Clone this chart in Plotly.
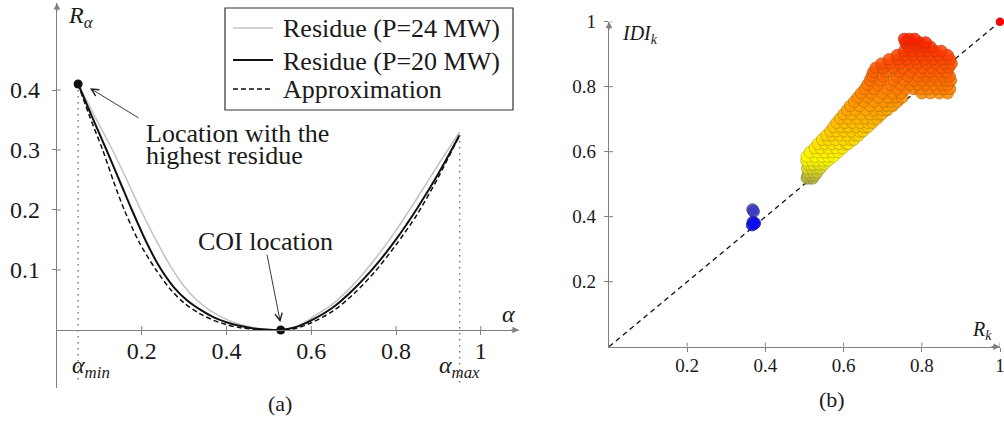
import plotly.graph_objects as go

# ---------------- panel (a): residue along the line parameter alpha ----------------
ALPHA_P24 = [0.05, 0.09, 0.131, 0.165, 0.198, 0.235, 0.27, 0.30, 0.33, 0.36, 0.39, 0.42,
             0.45, 0.48, 0.53, 0.57, 0.60, 0.65, 0.70, 0.75, 0.80, 0.85, 0.90, 0.95]
R_P24 = [0.41, 0.355, 0.30, 0.25, 0.20, 0.148, 0.104, 0.073, 0.05, 0.033, 0.021, 0.012,
         0.006, 0.002, 0.0, 0.006, 0.02, 0.043, 0.076, 0.118, 0.166, 0.22, 0.276, 0.33]

ALPHA_P20 = [0.05, 0.08, 0.117, 0.15, 0.177, 0.21, 0.243, 0.275, 0.306, 0.34, 0.37, 0.40,
             0.43, 0.46, 0.49, 0.528, 0.56, 0.60, 0.65, 0.70, 0.75, 0.80, 0.85, 0.90, 0.95]
R_P20 = [0.41, 0.36, 0.30, 0.245, 0.20, 0.148, 0.104, 0.072, 0.05, 0.033, 0.021, 0.013,
         0.007, 0.003, 0.001, 0.0, 0.004, 0.016, 0.037, 0.068, 0.106, 0.151, 0.203, 0.261, 0.325]

ALPHA_APPROX = [0.05, 0.075, 0.108, 0.135, 0.159, 0.195, 0.234, 0.27, 0.30, 0.335, 0.37, 0.40,
                0.43, 0.47, 0.528, 0.56, 0.60, 0.65, 0.70, 0.75, 0.80, 0.85, 0.90, 0.95]
R_APPROX = [0.41, 0.36, 0.30, 0.245, 0.20, 0.145, 0.10, 0.066, 0.045, 0.028, 0.016, 0.009,
            0.004, 0.001, 0.0, 0.002, 0.012, 0.031, 0.06, 0.097, 0.142, 0.193, 0.255, 0.325]

SERIES_NAMES = ["Residue (P=24 MW)", "Residue (P=20 MW)", "Approximation"]

ALPHA_MIN, ALPHA_MAX = 0.05, 0.95
X_TICKS_A = [0.2, 0.4, 0.6, 0.8, 1.0]
X_LABELS_A = ["0.2", "0.4", "0.6", "0.8", "1"]
Y_TICKS_A = [0.1, 0.2, 0.3, 0.4]
Y_LABELS_A = ["0.1", "0.2", "0.3", "0.4"]

# ---------------- panel (b): IDI_k against R_k ----------------
RK_BLUE = [0.367, 0.370, 0.368, 0.371, 0.366, 0.373]
IDI_BLUE = [0.422, 0.416, 0.384, 0.378, 0.374, 0.380]

# main cloud, one IDI level per row with the R_k values found on it
ROW_IDI = [0.518, 0.527, 0.536, 0.548, 0.561, 0.573, 0.585, 0.598, 0.611, 0.624, 0.637,
           0.650, 0.663, 0.676, 0.689, 0.702, 0.715, 0.728, 0.741, 0.754, 0.767, 0.780,
           0.793, 0.806, 0.819, 0.832, 0.845, 0.858, 0.871, 0.884, 0.897, 0.910, 0.923,
           0.936, 0.947]
ROW_RK = [
    [0.506, 0.513, 0.521],
    [0.508, 0.517, 0.526],
    [0.511, 0.522, 0.532],
    [0.507, 0.519, 0.530, 0.540],
    [0.509, 0.522, 0.537, 0.550],
    [0.505, 0.518, 0.531, 0.547, 0.561],
    [0.506, 0.527, 0.545, 0.560, 0.574],
    [0.514, 0.533, 0.552, 0.571, 0.586],
    [0.526, 0.541, 0.561, 0.580, 0.598],
    [0.534, 0.552, 0.570, 0.588, 0.607, 0.612],
    [0.545, 0.561, 0.579, 0.599, 0.618, 0.626],
    [0.556, 0.571, 0.590, 0.610, 0.629, 0.638],
    [0.566, 0.582, 0.601, 0.620, 0.640, 0.650],
    [0.574, 0.593, 0.612, 0.632, 0.651, 0.662],
    [0.582, 0.603, 0.623, 0.643, 0.662, 0.674],
    [0.591, 0.612, 0.634, 0.655, 0.673, 0.686],
    [0.600, 0.620, 0.645, 0.667, 0.686, 0.697],
    [0.609, 0.630, 0.657, 0.679, 0.698, 0.712],
    [0.617, 0.641, 0.668, 0.690, 0.711, 0.726],
    [0.627, 0.652, 0.678, 0.703, 0.722, 0.738],
    [0.636, 0.661, 0.689, 0.714, 0.734, 0.750],
    [0.645, 0.671, 0.700, 0.726, 0.747, 0.800, 0.822, 0.845, 0.866],
    [0.654, 0.678, 0.710, 0.737, 0.759, 0.779, 0.798, 0.818, 0.839, 0.858, 0.872],
    [0.661, 0.687, 0.720, 0.747, 0.770, 0.790, 0.810, 0.830, 0.850, 0.866],
    [0.667, 0.694, 0.728, 0.756, 0.780, 0.801, 0.821, 0.842, 0.862, 0.874],
    [0.672, 0.701, 0.736, 0.765, 0.790, 0.812, 0.832, 0.853, 0.871],
    [0.676, 0.708, 0.742, 0.772, 0.797, 0.820, 0.843, 0.864],
    [0.682, 0.702, 0.726, 0.752, 0.779, 0.803, 0.826, 0.850, 0.869],
    [0.697, 0.720, 0.745, 0.768, 0.790, 0.812, 0.835, 0.858, 0.876],
    [0.716, 0.740, 0.762, 0.784, 0.806, 0.828, 0.851, 0.872],
    [0.737, 0.758, 0.779, 0.800, 0.820, 0.843, 0.866],
    [0.755, 0.776, 0.796, 0.814, 0.833, 0.850],
    [0.766, 0.787, 0.805, 0.822],
    [0.758, 0.776, 0.795, 0.810],
    [0.755, 0.768, 0.782],
]
RK_REF, IDI_REF = [1.0], [1.0]
X_TICKS_B = [0.2, 0.4, 0.6, 0.8, 1.0]
X_LABELS_B = ["0.2", "0.4", "0.6", "0.8", "1"]
Y_TICKS_B = [0.2, 0.4, 0.6, 0.8, 1.0]
Y_LABELS_B = ["0.2", "0.4", "0.6", "0.8", "1"]

# ---------------- styling ----------------
FONT = "Liberation Serif, Times New Roman, DejaVu Serif, serif"
AXIS_GRAY = "#808080"
TXT = "#1a1a1a"
W, H = 1004, 422

rk_cloud = RK_BLUE + [r for row, rks in zip(ROW_IDI, ROW_RK) for r in rks]
idi_cloud = IDI_BLUE + [y for y, rks in zip(ROW_IDI, ROW_RK) for _ in rks]

CMIN, CMAX = 0.37, 1.0
FILL_SCALE = [[0.0, "rgb(0,0,255)"], [0.333, "rgb(255,255,0)"], [1.0, "rgb(255,0,0)"]]
EDGE_SCALE = [[0.0, "rgb(20,20,170)"], [0.333, "rgb(200,190,0)"], [1.0, "rgb(200,25,0)"]]

LINE_STYLES = [
    dict(color="#c4c4c4", width=1.6),
    dict(color="#111111", width=2.0),
    dict(color="#111111", width=1.5, dash="5px,3px"),
]

fig = go.Figure()

# --- panel (a) traces ---
for xs, ys, name, style in zip([ALPHA_P24, ALPHA_P20, ALPHA_APPROX],
                               [R_P24, R_P20, R_APPROX], SERIES_NAMES, LINE_STYLES):
    fig.add_trace(go.Scatter(x=xs, y=ys, mode="lines", name=name, showlegend=False,
                             line=dict(style, shape="spline", smoothing=0.8),
                             xaxis="x", yaxis="y"))

# bounds of the admissible alpha interval
for a, r_top in [(ALPHA_MIN, R_P20[0]), (ALPHA_MAX, R_P20[-1])]:
    fig.add_trace(go.Scatter(x=[a, a], y=[r_top, -0.09], mode="lines", showlegend=False,
                             line=dict(color="#707070", width=1.4, dash="1.4px,4.6px"),
                             hoverinfo="skip", xaxis="x", yaxis="y"))

# highest residue and COI location
i_min = R_P20.index(min(R_P20))
fig.add_trace(go.Scatter(x=[ALPHA_P20[0], ALPHA_P20[i_min]], y=[R_P20[0], R_P20[i_min]],
                         mode="markers", showlegend=False, cliponaxis=False,
                         marker=dict(color="#111111", size=9),
                         xaxis="x", yaxis="y"))

# --- panel (b) traces ---
fig.add_trace(go.Scatter(x=[0, 1], y=[0, 1], mode="lines", showlegend=False,
                         line=dict(color="#111111", width=1.3, dash="5px,4px"),
                         xaxis="x2", yaxis="y2"))
fig.add_trace(go.Scatter(x=rk_cloud, y=idi_cloud, mode="markers", showlegend=False,
                         marker=dict(size=11.5, color=idi_cloud, colorscale=FILL_SCALE,
                                     cmin=CMIN, cmax=CMAX, opacity=0.85,
                                     line=dict(width=1.0, color=idi_cloud,
                                               colorscale=EDGE_SCALE, cmin=CMIN, cmax=CMAX)),
                         xaxis="x2", yaxis="y2"))
fig.add_trace(go.Scatter(x=RK_REF, y=IDI_REF, mode="markers", showlegend=False,
                         cliponaxis=False, marker=dict(size=8.5, color="rgb(250,0,0)"),
                         xaxis="x2", yaxis="y2"))

# --- axes ---
A_X0, A_X1 = 56.9, 519.0           # pixel extent of panel (a) horizontally
A_Y_TOP, A_Y_BOT, A_Y_ZERO = 3.0, 388.0, 330.0
B_X0, B_X1 = 609.0, 1000.0
B_Y_TOP, B_Y_BOT = 21.7, 346.7

axis_common = dict(showgrid=False, zeroline=False, showline=True, linecolor=AXIS_GRAY,
                   linewidth=1.2, ticks="outside", ticklen=4, tickwidth=1, tickcolor=AXIS_GRAY,
                   tickfont=dict(family=FONT, color=TXT), ticklabeloverflow="allow",
                   automargin=False)

fig.update_layout(
    template="none",
    xaxis=dict(axis_common, domain=[A_X0 / W, A_X1 / W], range=[0, 1.09],
               anchor="free", position=1 - A_Y_ZERO / H,
               tickvals=X_TICKS_A, ticktext=X_LABELS_A, tickfont_size=24,
               ticklabelstandoff=-5),
    yaxis=dict(axis_common, domain=[1 - A_Y_BOT / H, 1 - A_Y_TOP / H],
               range=[-0.0967, 0.545], anchor="x",
               tickvals=Y_TICKS_A, ticktext=Y_LABELS_A, tickfont_size=24,
               ticklabelstandoff=7),
    xaxis2=dict(axis_common, domain=[B_X0 / W, B_X1 / W], range=[0, 1], anchor="y2",
                tickvals=X_TICKS_B, ticktext=X_LABELS_B, tickfont_size=19,
                ticklabelstandoff=-3),
    yaxis2=dict(axis_common, domain=[1 - B_Y_BOT / H, 1 - B_Y_TOP / H], range=[0, 1],
                anchor="x2", tickvals=Y_TICKS_B, ticktext=Y_LABELS_B, tickfont_size=19,
                ticklabelstandoff=4),
)

# inner halves of the tick marks, so each tick crosses its axis
for xa, ya, ticks in [("x", "y", X_TICKS_A), ("x2", "y2", X_TICKS_B)]:
    for v in ticks:
        fig.add_shape(type="line", xref=xa, yref=ya, x0=v, x1=v, ysizemode="pixel",
                      yanchor=0, y0=0, y1=4, line=dict(color=AXIS_GRAY, width=1))
for xa, ya, ticks in [("x", "y", Y_TICKS_A), ("x2", "y2", Y_TICKS_B)]:
    for v in ticks:
        fig.add_shape(type="line", xref=xa, yref=ya, y0=v, y1=v, xsizemode="pixel",
                      xanchor=0, x0=0, x1=4, line=dict(color=AXIS_GRAY, width=1))

# legend box of panel (a), drawn by hand for a tight row pitch
LEG_L, LEG_R, LEG_T, LEG_B = 225, 513, 8, 110
LEG_ROWS = [28, 60, 89]
fig.add_shape(type="rect", xref="paper", yref="paper", x0=LEG_L / W, x1=LEG_R / W,
              y0=1 - LEG_B / H, y1=1 - LEG_T / H, fillcolor="white",
              line=dict(color="#333333", width=1.2))
for row, style in zip(LEG_ROWS, LINE_STYLES):
    fig.add_shape(type="line", xref="paper", yref="paper", x0=233 / W, x1=273 / W,
                  y0=1 - row / H, y1=1 - row / H, line=style)

annotations = []

# axis arrow heads
for xa, ya, x, y, ax, ay in [("x", "y", 1.09, 0, -10, 0), ("x", "y", 0, 0.545, 0, 10),
                             ("x2", "y2", 1.0, 0, -10, 0), ("x2", "y2", 0, 1.0, 0, 10)]:
    annotations.append(dict(xref=xa, yref=ya, x=x, y=y, ax=ax, ay=ay, text="",
                            showarrow=True, arrowhead=2, arrowsize=1.1, arrowwidth=1.2,
                            arrowcolor=AXIS_GRAY, standoff=0))


def label(xref, yref, x, y, text, size, xanchor="center", yanchor="middle"):
    return dict(xref=xref, yref=yref, x=x, y=y, text=text, showarrow=False,
                xanchor=xanchor, yanchor=yanchor,
                font=dict(family=FONT, color=TXT, size=size))


for row, name in zip(LEG_ROWS, SERIES_NAMES):
    annotations.append(label("paper", "paper", 281 / W, 1 - (row + 1) / H, name, 26,
                             xanchor="left"))

annotations += [
    label("x", "y", 0.056, 0.522, "<i>R<sub>α</sub></i>", 24),
    label("x", "y", 1.066, 0.026, "<i>α</i>", 24),
    label("x", "y", ALPHA_MIN - 0.02, -0.062, "<i>α<sub>min</sub></i>", 24, xanchor="left"),
    label("x", "y", ALPHA_MAX, -0.062, "<i>α<sub>max</sub></i>", 24),
    label("x", "y", 0.206, 0.327, "Location with the", 26, xanchor="left"),
    label("x", "y", 0.206, 0.291, "highest residue", 26, xanchor="left"),
    label("x", "y", 0.492, 0.147, "COI location", 26),
    label("paper", "paper", 280 / W, 1 - 403 / H, "(a)", 22),
    label("x2", "y2", 0.08, 0.962, "<i>IDI<sub>k</sub></i>", 20),
    label("x2", "y2", 0.954, 0.05, "<i>R<sub>k</sub></i>", 20),
    label("paper", "paper", 832 / W, 1 - 399 / H, "(b)", 22),
]

# pointer arrows
pointer = dict(xref="x", yref="y", axref="x", ayref="y", text="", showarrow=True,
               arrowhead=5, arrowsize=1.6, arrowwidth=0.9, arrowcolor="#222222", standoff=0)
annotations += [
    dict(pointer, x=0.078, y=0.403, ax=0.196, ay=0.352),
    dict(pointer, x=ALPHA_P20[i_min] - 0.001, y=0.013, ax=0.495, ay=0.128),
]

fig.update_layout(
    width=W, height=H, margin=dict(l=0, r=0, t=0, b=0, pad=0, autoexpand=False),
    paper_bgcolor="white", plot_bgcolor="white",
    font=dict(family=FONT, color=TXT),
    annotations=annotations,
    showlegend=False,
)

fig.write_html("out.html")
